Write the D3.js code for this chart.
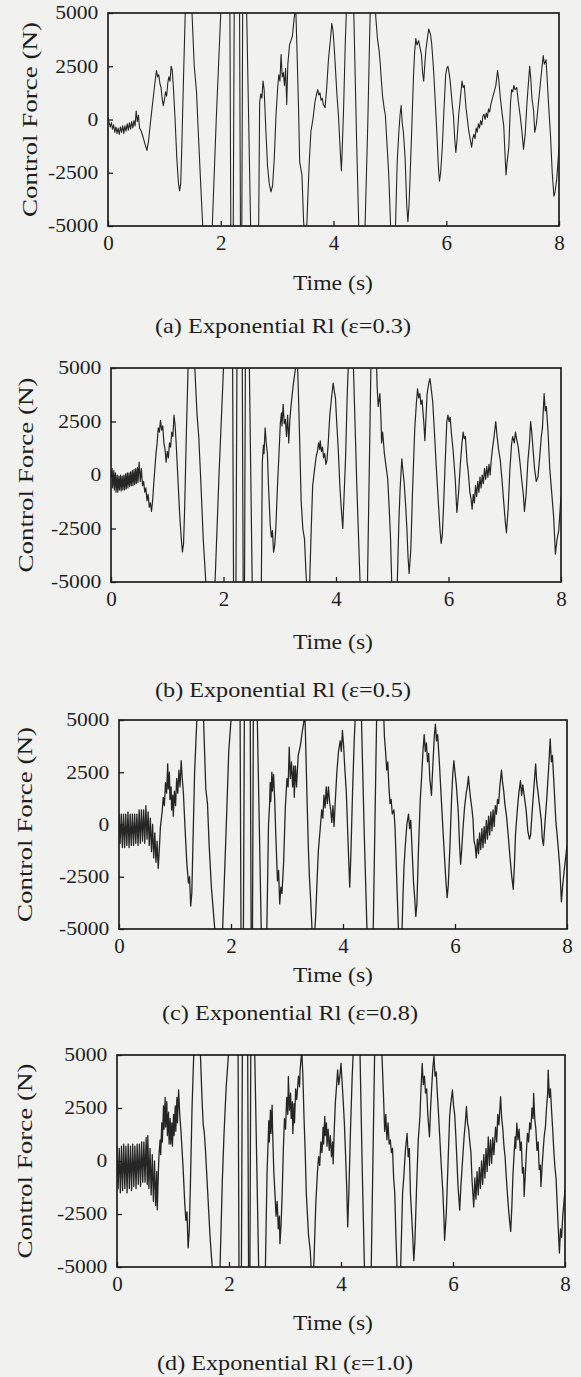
<!DOCTYPE html>
<html>
<head>
<meta charset="utf-8">
<script src="https://cdn.jsdelivr.net/npm/d3@7"></script>
<style>
body { margin: 0; background: #f1f1ef; }
svg { display: block; }
text { font-family: "Liberation Serif", "Times New Roman", Times, serif; fill: #1e1e1e; }
</style>
</head>
<body>
<svg id="fig" width="581" height="1377"></svg>
<script>
const timeTicks = [0, 2, 4, 6, 8];
const forceTicks = [-5000, -2500, 0, 2500, 5000];
const captions = [
    "(a) Exponential Rl (\u03b5=0.3)",
    "(b) Exponential Rl (\u03b5=0.5)",
    "(c) Exponential Rl (\u03b5=0.8)",
    "(d) Exponential Rl (\u03b5=1.0)"
];

// [time (s), control force (N)]; values outside +-5000 are clipped
const forceA = [
[0.00,100],[0.02,-150],[0.04,-350],[0.06,-150],[0.08,-450],[0.10,-250],[0.12,-600],[0.14,-350],[0.16,-650],[0.18,-400],
[0.20,-700],[0.22,-350],[0.24,-600],[0.26,-300],[0.28,-650],[0.30,-300],[0.32,-550],[0.34,-200],[0.36,-500],[0.38,-150],
[0.40,-450],[0.42,-100],[0.44,-400],[0.46,-50],[0.48,-300],[0.50,400],[0.52,-100],[0.54,200],[0.56,-400],[0.59,-550],
[0.62,-800],[0.65,-1100],[0.69,-1450],[0.72,-1000],[0.75,-200],[0.78,500],[0.81,1200],[0.84,1900],[0.86,2300],[0.88,2000],
[0.90,2100],[0.92,1700],[0.94,1500],[0.96,1000],[0.98,650],[1.00,900],[1.02,1300],[1.04,1100],[1.06,1700],[1.08,2000],
[1.10,1800],[1.12,2500],[1.14,2300],[1.16,1500],[1.19,0],[1.22,-1800],[1.25,-3000],[1.27,-3350],[1.29,-3000],[1.31,-1200],
[1.34,2000],[1.37,5000],[1.41,7200],[1.45,7000],[1.49,5000],[1.53,2500],[1.57,1300],[1.60,-500],[1.64,-2800],[1.68,-5000],
[1.74,-7000],[1.80,-6800],[1.85,-5000],[1.92,0],[2.00,5000],[2.06,7000],[2.12,7500],[2.16,6500],[2.18,-6000],[2.20,-8500],
[2.22,-6000],[2.24,6000],[2.28,8500],[2.33,7500],[2.35,-5500],[2.37,-7500],[2.39,6000],[2.41,8000],[2.44,7000],[2.46,5000],
[2.53,-5000],[2.58,-7500],[2.64,-7000],[2.67,-6000],[2.69,800],[2.71,1200],[2.73,1000],[2.75,1800],[2.77,1400],[2.80,-500],
[2.83,-2200],[2.86,-3000],[2.89,-3400],[2.92,-3100],[2.95,-1800],[2.98,200],[3.01,1500],[3.03,2100],[3.05,1800],[3.07,3050],
[3.09,2000],[3.11,2200],[3.13,1600],[3.15,2400],[3.17,700],[3.19,2600],[3.22,3500],[3.27,3900],[3.30,4700],[3.33,5300],
[3.35,3500],[3.38,500],[3.40,-2000],[3.42,-2300],[3.44,-2600],[3.47,-4800],[3.50,-5800],[3.52,-5500],[3.54,-4000],[3.57,-2000],
[3.60,-550],[3.64,100],[3.67,800],[3.70,1200],[3.72,1400],[3.74,1150],[3.76,1250],[3.78,900],[3.80,1000],[3.82,700],
[3.85,550],[3.88,1500],[3.91,2800],[3.94,3600],[3.97,4500],[3.99,4200],[4.01,3500],[4.03,2600],[4.06,1200],[4.09,100],
[4.12,-1500],[4.14,-2400],[4.16,-1000],[4.18,600],[4.21,3700],[4.23,5200],[4.26,7000],[4.29,6800],[4.33,5600],[4.36,5000],
[4.41,-1000],[4.45,-5200],[4.50,-7000],[4.54,-6000],[4.56,-5000],[4.61,0],[4.65,5000],[4.69,7000],[4.73,6500],[4.75,4800],
[4.78,3800],[4.81,3200],[4.83,2600],[4.85,1800],[4.87,1100],[4.90,500],[4.92,200],[4.95,-1200],[4.98,-2600],[5.01,-4800],
[5.04,-6500],[5.08,-6000],[5.10,-5000],[5.13,-2000],[5.16,-550],[5.18,200],[5.20,650],[5.22,-200],[5.24,-600],[5.27,-1800],
[5.30,-4100],[5.32,-4800],[5.34,-4000],[5.36,-2600],[5.39,-300],[5.42,2100],[5.44,3200],[5.46,3800],[5.48,3500],[5.51,3700],
[5.54,3300],[5.56,3050],[5.58,2200],[5.60,1800],[5.62,2600],[5.64,3300],[5.67,3900],[5.69,4250],[5.72,4000],[5.74,3600],
[5.76,2900],[5.78,2100],[5.81,600],[5.84,-1000],[5.86,-2200],[5.88,-2900],[5.90,-2500],[5.93,-1300],[5.96,500],[5.99,2100],
[6.01,2400],[6.03,2500],[6.05,2200],[6.07,1800],[6.10,900],[6.13,100],[6.15,-900],[6.17,-1550],[6.19,-1000],[6.22,200],
[6.25,1000],[6.28,1800],[6.30,1500],[6.32,1600],[6.35,550],[6.38,-100],[6.40,-550],[6.43,-1000],[6.45,-1300],[6.47,-900],
[6.49,-700],[6.51,-900],[6.53,-400],[6.55,-600],[6.57,-200],[6.59,-400],[6.61,-50],[6.63,-250],[6.65,150],[6.67,250],
[6.69,0],[6.71,300],[6.73,100],[6.75,500],[6.77,350],[6.79,700],[6.82,1000],[6.85,1300],[6.88,1600],[6.91,2300],
[6.93,1900],[6.96,1000],[6.99,300],[7.02,-300],[7.04,-1500],[7.06,-2600],[7.08,-2000],[7.11,-1300],[7.14,800],[7.16,1400],
[7.18,1300],[7.20,1600],[7.22,1400],[7.25,1500],[7.28,800],[7.31,200],[7.34,-500],[7.37,-1400],[7.40,-700],[7.43,700],
[7.46,1800],[7.48,2500],[7.50,1900],[7.52,1000],[7.55,400],[7.57,-600],[7.60,-200],[7.64,900],[7.67,1700],[7.70,2500],
[7.72,3000],[7.74,2600],[7.77,2800],[7.79,1900],[7.82,500],[7.85,-800],[7.88,-2500],[7.91,-3600],[7.93,-3400],[7.96,-2800],
[8.00,-1300]
];

const forceB = [
[0.00,-100],[0.02,300],[0.03,-600],[0.05,200],[0.06,-700],[0.08,100],[0.09,-800],[0.11,0],[0.12,-800],[0.14,-50],
[0.15,-700],[0.17,0],[0.18,-750],[0.20,-50],[0.21,-700],[0.23,0],[0.24,-700],[0.26,50],[0.27,-650],[0.29,100],
[0.30,-600],[0.32,100],[0.33,-550],[0.35,150],[0.36,-500],[0.38,200],[0.39,-500],[0.41,250],[0.42,-450],[0.44,300],
[0.45,-400],[0.47,350],[0.48,-350],[0.50,600],[0.52,-300],[0.54,300],[0.56,-500],[0.58,-300],[0.60,-800],[0.62,-600],
[0.64,-1200],[0.66,-900],[0.68,-1500],[0.70,-1300],[0.72,-1700],[0.74,-1200],[0.76,-400],[0.78,300],[0.80,1000],[0.82,1500],
[0.84,2200],[0.86,2000],[0.88,2550],[0.90,2100],[0.92,2300],[0.94,1500],[0.96,1200],[0.98,600],[1.00,1100],[1.02,800],
[1.04,1500],[1.06,1300],[1.08,2000],[1.10,1800],[1.12,2800],[1.14,2300],[1.16,1400],[1.19,-200],[1.22,-1800],[1.25,-3000],
[1.27,-3600],[1.29,-3200],[1.31,-1500],[1.34,2000],[1.37,5000],[1.41,7500],[1.45,7200],[1.49,5000],[1.53,2800],[1.56,1800],
[1.60,-500],[1.64,-3000],[1.69,-5200],[1.74,-7000],[1.80,-6800],[1.85,-5000],[1.92,0],[2.00,5000],[2.06,7000],[2.12,7500],
[2.16,6500],[2.18,-6000],[2.20,-8500],[2.22,-6000],[2.24,6000],[2.28,8500],[2.33,7500],[2.35,-5500],[2.37,-7500],[2.39,6000],
[2.41,8000],[2.44,7000],[2.46,5000],[2.51,-5000],[2.58,-7500],[2.64,-7000],[2.67,-6000],[2.69,600],[2.71,1400],[2.72,1000],
[2.74,2200],[2.76,1500],[2.78,1000],[2.80,-500],[2.83,-2300],[2.85,-2900],[2.87,-2600],[2.89,-3600],[2.91,-3300],[2.93,-2500],
[2.96,-500],[2.99,1200],[3.01,2400],[3.03,2900],[3.04,2300],[3.06,3300],[3.08,2400],[3.10,2600],[3.12,1800],[3.14,2800],
[3.16,1500],[3.18,2600],[3.21,3500],[3.24,4200],[3.28,5000],[3.31,5600],[3.33,4000],[3.36,1000],[3.38,-1200],[3.41,-2500],
[3.44,-3000],[3.47,-4800],[3.50,-5800],[3.53,-5200],[3.56,-2500],[3.585,-500],[3.62,300],[3.65,900],[3.67,1100],[3.69,1500],
[3.71,1200],[3.72,1600],[3.74,1100],[3.76,1300],[3.78,800],[3.80,1000],[3.82,500],[3.84,700],[3.86,1400],[3.89,2800],
[3.92,3600],[3.95,4300],[3.97,3900],[3.99,3600],[4.01,2600],[4.04,1200],[4.07,-600],[4.10,-1800],[4.12,-2500],[4.14,-1200],
[4.17,800],[4.20,3800],[4.22,5200],[4.25,7000],[4.28,6800],[4.31,5000],[4.37,-500],[4.43,-5200],[4.48,-7000],[4.53,-6000],
[4.56,-5000],[4.59,0],[4.62,5000],[4.67,7000],[4.71,6500],[4.73,4200],[4.75,3200],[4.78,3800],[4.80,2600],[4.81,1500],
[4.83,2000],[4.86,1000],[4.89,400],[4.92,-200],[4.95,-1800],[4.97,-3000],[4.99,-5000],[5.03,-6500],[5.07,-6000],[5.09,-5000],
[5.12,-2000],[5.14,-640],[5.17,760],[5.19,200],[5.21,-300],[5.24,-1500],[5.26,-2500],[5.28,-3800],[5.30,-4600],[5.33,-3500],
[5.36,-800],[5.40,2160],[5.43,3400],[5.45,4030],[5.47,3600],[5.49,3800],[5.51,3300],[5.53,3500],[5.56,2500],[5.58,1600],
[5.60,2700],[5.62,3800],[5.65,4300],[5.67,4500],[5.69,4100],[5.72,3400],[5.75,2000],[5.78,500],[5.82,-1300],[5.85,-2600],
[5.87,-3200],[5.89,-2800],[5.91,-1600],[5.94,500],[5.97,2500],[5.99,2800],[6.01,2500],[6.03,2700],[6.05,2000],[6.08,1200],
[6.10,500],[6.12,-200],[6.14,-1300],[6.15,-1750],[6.18,-800],[6.21,500],[6.24,1500],[6.26,2000],[6.28,1700],[6.30,1800],
[6.33,600],[6.35,200],[6.38,-800],[6.40,-1100],[6.42,-1600],[6.44,-900],[6.46,-1300],[6.48,-500],[6.50,-1000],[6.52,-300],
[6.54,-800],[6.56,-100],[6.58,-600],[6.60,0],[6.62,-400],[6.64,300],[6.66,-200],[6.68,400],[6.70,-100],[6.72,500],
[6.74,0],[6.76,700],[6.78,1200],[6.81,1800],[6.84,2500],[6.86,1900],[6.89,1200],[6.92,700],[6.95,-200],[6.98,-1200],
[7.01,-2200],[7.03,-2700],[7.06,-1600],[7.09,200],[7.12,1400],[7.14,1800],[7.17,1500],[7.19,2000],[7.21,1700],[7.24,1300],
[7.27,600],[7.30,-200],[7.33,-900],[7.35,-1700],[7.38,-900],[7.41,600],[7.44,1500],[7.46,2500],[7.48,2000],[7.50,1300],
[7.53,300],[7.56,-300],[7.59,-100],[7.62,800],[7.65,1800],[7.67,2200],[7.70,3800],[7.72,3000],[7.74,3200],[7.77,2000],
[7.80,300],[7.84,-1000],[7.87,-2000],[7.90,-3700],[7.93,-3000],[7.96,-2600],[8.00,-1000]
];

const forceC = [
[0.00,500],[0.02,-900],[0.04,500],[0.06,-1100],[0.08,500],[0.10,-1100],[0.12,500],[0.14,-1000],[0.16,600],[0.18,-1100],
[0.20,500],[0.22,-1000],[0.24,500],[0.26,-1000],[0.28,500],[0.30,-900],[0.32,500],[0.34,-1000],[0.36,700],[0.38,-900],
[0.40,700],[0.42,-800],[0.44,700],[0.46,-900],[0.48,900],[0.50,-700],[0.52,600],[0.54,-1000],[0.56,300],[0.58,-1300],
[0.60,0],[0.62,-1600],[0.64,-400],[0.66,-1800],[0.68,-800],[0.70,-2100],[0.72,-1200],[0.74,-100],
[0.77,600],[0.79,1300],[0.81,900],[0.83,2000],[0.85,1500],[0.87,2900],[0.88,1700],[0.90,2500],[0.91,1200],[0.93,1800],
[0.94,700],[0.96,1400],[0.97,400],[0.99,1600],[1.01,900],[1.03,2200],[1.05,1500],[1.07,2600],[1.09,1800],[1.11,3050],
[1.13,2200],[1.15,1500],[1.18,-200],[1.21,-1800],[1.24,-2800],[1.26,-2500],[1.28,-3900],[1.30,-3300],[1.32,-1000],[1.35,2500],
[1.39,5000],[1.43,7000],[1.47,6500],[1.51,5000],[1.55,1700],[1.58,1000],[1.61,-1000],[1.65,-3000],[1.71,-5000],[1.76,-7000],
[1.82,-6500],[1.85,-5000],[1.91,-500],[1.96,3500],[2.00,5000],[2.06,7000],[2.12,7500],[2.16,6500],[2.18,-6000],[2.20,-8500],
[2.22,-6000],[2.24,6000],[2.28,8500],[2.34,7500],[2.36,-5500],[2.38,-7500],[2.40,6000],[2.42,8000],[2.45,7000],[2.47,5000],
[2.54,-5000],[2.58,-7500],[2.62,-7000],[2.64,-5000],[2.67,0],[2.69,1000],[2.70,2000],[2.71,1100],[2.73,2500],[2.74,1600],
[2.76,2400],[2.78,1200],[2.80,-500],[2.83,-2700],[2.85,-2200],[2.87,-3800],[2.89,-3000],[2.91,-3300],[2.94,-1800],[2.97,800],
[3.00,2200],[3.02,1800],[3.04,3700],[3.06,2200],[3.08,3000],[3.10,1800],[3.12,2800],[3.13,1300],[3.15,2800],[3.17,1800],
[3.20,3300],[3.24,3800],[3.27,4400],[3.30,4900],[3.32,5300],[3.34,3200],[3.36,1000],[3.38,-1000],[3.40,-2500],[3.42,-3500],
[3.45,-5200],[3.48,-5800],[3.51,-4500],[3.54,-2500],[3.56,-1250],[3.59,-300],[3.62,700],[3.64,300],[3.66,1400],[3.68,800],
[3.70,1800],[3.72,1000],[3.74,1800],[3.76,1100],[3.78,700],[3.80,100],[3.82,900],[3.84,-100],[3.86,1000],[3.89,2500],
[3.92,3500],[3.95,4000],[3.97,3500],[3.99,4500],[4.01,3800],[4.03,2800],[4.06,1500],[4.09,-800],[4.12,-3000],[4.14,-1500],
[4.17,1500],[4.20,4000],[4.22,5200],[4.26,7000],[4.30,6800],[4.33,5000],[4.38,-500],[4.43,-5200],[4.48,-7000],[4.52,-6000],
[4.54,-5000],[4.57,0],[4.60,5000],[4.66,7000],[4.71,6500],[4.74,4200],[4.76,3500],[4.78,2600],[4.80,3000],[4.82,1800],
[4.84,1000],[4.86,1200],[4.88,500],[4.91,700],[4.93,-200],[4.95,-1800],[4.97,-3500],[4.99,-5000],[5.02,-6500],[5.05,-5500],
[5.07,-3500],[5.09,-2000],[5.11,-1100],[5.14,0],[5.17,500],[5.19,-200],[5.21,200],[5.24,-1570],[5.26,-2800],[5.28,-3500],
[5.30,-4400],[5.32,-3800],[5.35,-1000],[5.38,1200],[5.40,2100],[5.43,3600],[5.45,4300],[5.47,3500],[5.49,3900],[5.51,3000],
[5.53,3400],[5.55,2200],[5.58,1400],[5.60,2600],[5.63,4200],[5.65,4800],[5.67,4000],[5.69,4300],[5.72,3000],[5.74,2000],
[5.76,1000],[5.79,-500],[5.82,-1900],[5.84,-2800],[5.86,-3500],[5.88,-2900],[5.91,-1000],[5.94,1300],[5.96,2400],[5.98,3050],
[6.00,2500],[6.02,2000],[6.04,1300],[6.06,500],[6.08,-900],[6.10,-1900],[6.12,-1200],[6.14,-300],[6.17,800],[6.20,1500],
[6.22,1800],[6.24,2300],[6.26,1700],[6.28,1200],[6.30,800],[6.32,300],[6.34,-800],[6.36,-1000],[6.38,-1600],[6.40,-700],
[6.42,-1400],[6.44,-400],[6.46,-1200],[6.48,-200],[6.50,-1100],[6.52,-100],[6.54,-900],[6.56,200],[6.58,-700],[6.60,400],
[6.62,-500],[6.64,600],[6.66,-300],[6.68,700],[6.70,-100],[6.72,900],[6.74,500],[6.76,1200],[6.78,1000],[6.80,1800],
[6.83,2600],[6.85,2000],[6.87,1600],[6.89,1000],[6.92,400],[6.95,-500],[6.98,-1500],[7.01,-2400],[7.04,-3100],[7.06,-2000],
[7.08,-500],[7.11,600],[7.14,1500],[7.17,2100],[7.19,1400],[7.21,1900],[7.24,1300],[7.27,700],[7.30,-300],[7.33,-700],
[7.35,-500],[7.38,700],[7.41,1800],[7.44,2900],[7.46,2000],[7.48,1600],[7.51,900],[7.54,200],[7.56,-700],[7.58,-1000],
[7.61,200],[7.64,1300],[7.67,2600],[7.70,4100],[7.72,3000],[7.74,3300],[7.77,1800],[7.80,200],[7.84,-1000],[7.87,-2000],
[7.90,-3700],[7.92,-3000],[7.95,-2200],[8.00,-1000]
];

const forceD = [
[0.00,700],[0.02,-1300],[0.04,600],[0.06,-1500],[0.08,700],[0.10,-1400],[0.12,800],[0.14,-1300],[0.16,700],[0.18,-1500],
[0.20,800],[0.22,-1300],[0.24,700],[0.26,-1400],[0.28,800],[0.30,-1200],[0.32,700],[0.34,-1300],[0.36,800],[0.38,-1100],
[0.40,800],[0.42,-1200],[0.44,900],[0.46,-1000],[0.48,900],[0.50,-1000],[0.52,1100],[0.54,-1100],[0.55,1200],[0.57,-1300],
[0.59,600],[0.61,-1600],[0.63,300],[0.65,-1900],[0.67,0],[0.69,-2100],[0.71,-500],[0.72,-2300],[0.74,-400],[0.75,300],
[0.77,1000],[0.78,300],[0.80,1800],[0.81,900],
[0.83,2600],[0.84,1500],[0.86,3000],[0.87,1600],[0.89,2800],[0.90,1200],[0.92,2300],[0.93,800],[0.95,2000],[0.96,800],
[0.98,1800],[0.99,700],[1.01,2200],[1.02,1200],[1.04,2600],[1.05,1400],[1.07,3000],[1.08,1800],[1.10,3350],[1.12,2200],
[1.14,1500],[1.16,600],[1.18,-300],[1.21,-2000],[1.23,-2800],[1.25,-2400],[1.27,-4100],[1.29,-3300],[1.31,-1200],[1.34,2500],
[1.37,5000],[1.41,7000],[1.45,6500],[1.49,5000],[1.52,2800],[1.54,1700],[1.56,1300],[1.58,500],[1.62,-1500],[1.66,-3500],
[1.70,-5000],[1.75,-7000],[1.81,-6500],[1.84,-5000],[1.88,-1000],[1.91,1200],[1.95,3500],[1.99,5000],[2.05,7000],[2.12,7500],
[2.16,6500],[2.18,-6000],[2.20,-8500],[2.22,-6000],[2.24,6000],[2.28,8500],[2.33,7500],[2.35,-5500],[2.37,-7500],[2.39,6000],
[2.41,8000],[2.44,7000],[2.46,5000],[2.53,-5000],[2.58,-7500],[2.63,-7000],[2.65,-5000],[2.68,-500],[2.70,1000],[2.71,1900],
[2.72,900],[2.74,2400],[2.75,1300],[2.77,2640],[2.78,1300],[2.80,-500],[2.82,-1500],[2.84,-2600],[2.86,-1900],[2.88,-3200],
[2.90,-2600],[2.91,-3900],[2.93,-3000],[2.95,-1500],[2.97,500],[2.99,2000],[3.01,1500],[3.03,3000],[3.05,2200],[3.06,3980],
[3.08,2400],[3.10,3200],[3.11,2000],[3.13,2800],[3.14,1300],[3.16,2700],[3.17,1800],[3.19,3400],[3.21,2900],[3.24,4000],
[3.26,3500],[3.27,4300],[3.30,5200],[3.32,4000],[3.34,2000],[3.36,500],[3.38,-1500],[3.40,-2500],[3.42,-3500],[3.45,-4200],
[3.47,-5200],[3.50,-5800],[3.52,-4500],[3.55,-2000],[3.58,-500],[3.60,200],[3.62,-200],[3.64,900],[3.66,400],[3.68,1600],
[3.69,800],[3.71,2100],[3.72,1200],[3.74,1800],[3.75,700],[3.77,1500],[3.79,500],[3.81,1200],[3.83,200],[3.85,900],
[3.86,-130],[3.88,1500],[3.90,2800],[3.92,3500],[3.94,4300],[3.96,3600],[3.98,4000],[4.00,4600],[4.02,3700],[4.04,2800],
[4.06,1800],[4.08,400],[4.10,-1100],[4.12,-3110],[4.14,-1500],[4.17,1500],[4.20,4000],[4.22,5200],[4.26,7000],[4.30,6800],
[4.34,5000],[4.38,-500],[4.42,-5200],[4.47,-7000],[4.52,-6000],[4.54,-5000],[4.57,0],[4.60,5000],[4.66,7000],[4.71,6500],
[4.74,4400],[4.76,3000],[4.78,1400],[4.80,2200],[4.82,1000],[4.84,1800],[4.86,800],[4.88,1000],[4.90,400],[4.92,600],
[4.94,-800],[4.96,-1500],[4.98,-3500],[5.00,-5000],[5.03,-6500],[5.06,-5500],[5.08,-3500],[5.10,-1500],[5.12,-800],[5.15,500],
[5.18,1300],[5.20,200],[5.22,600],[5.24,-1540],[5.26,-2500],[5.28,-3500],[5.30,-4700],[5.32,-3800],[5.35,-1200],[5.38,1000],
[5.41,2100],[5.43,3500],[5.45,4600],[5.47,3600],[5.49,4000],[5.51,3200],[5.53,3400],[5.55,2200],[5.58,1140],[5.60,2500],
[5.62,3500],[5.64,4400],[5.66,4950],[5.68,4000],[5.70,4200],[5.72,3200],[5.74,2300],[5.76,1300],[5.79,-200],[5.82,-1540],
[5.84,-2800],[5.85,-3740],[5.88,-2500],[5.91,-200],[5.94,2090],[5.96,2700],[5.99,3350],[6.01,2600],[6.03,2200],[6.05,1200],
[6.07,30],[6.09,-1200],[6.12,-2320],[6.14,-1200],[6.17,0],[6.20,1200],[6.22,1800],[6.24,2560],[6.26,1800],[6.28,1500],
[6.30,900],[6.32,400],[6.34,-900],[6.37,-2170],[6.39,-800],[6.41,-1800],[6.43,-500],[6.45,-1600],[6.47,-300],[6.49,-1300],
[6.51,0],[6.53,-1100],[6.55,300],[6.57,-800],[6.59,600],[6.61,-500],[6.63,1140],[6.65,-200],[6.67,1000],[6.69,-100],
[6.71,1100],[6.73,300],[6.76,1600],[6.78,900],[6.80,2200],[6.82,1700],[6.85,3030],[6.87,2000],[6.89,1500],[6.91,700],
[6.93,200],[6.95,-700],[6.97,-1500],[6.99,-2200],[7.01,-2800],[7.03,-3320],[7.05,-2200],[7.07,-700],[7.09,300],[7.11,1150],
[7.12,600],[7.14,1780],[7.16,1000],[7.18,1500],[7.20,500],[7.22,900],[7.24,-570],[7.26,-300],[7.27,-1670],[7.29,-700],
[7.31,400],[7.33,1300],[7.35,900],[7.37,1800],[7.39,1500],[7.41,2500],[7.43,2000],[7.44,3190],[7.46,2000],[7.48,1500],
[7.50,500],[7.52,900],[7.54,-400],[7.56,-200],[7.57,-1200],[7.59,-300],[7.61,500],[7.63,1200],[7.65,1600],[7.67,2500],
[7.69,3200],[7.70,4290],[7.72,3000],[7.74,3400],[7.76,2400],[7.78,1500],[7.80,500],[7.82,-300],[7.84,-800],[7.86,-2000],
[7.88,-3200],[7.90,-4340],[7.92,-3200],[7.94,-3600],[7.96,-2600],[8.00,-1360]
];

// frame of each panel on the page, plus where its labels sit
const panels = [
    { id: "a", data: forceA, caption: captions[0], left: 108, right: 559, top: 13,   bottom: 226,  timeY: 283,  capY: 326,  capX: 283, labX: 30, lw: 1.1 },
    { id: "b", data: forceB, caption: captions[1], left: 111, right: 561, top: 368,  bottom: 582,  timeY: 642,  capY: 690,  capX: 283, labX: 26, lw: 1.2 },
    { id: "c", data: forceC, caption: captions[2], left: 119, right: 567, top: 720,  bottom: 929,  timeY: 975,  capY: 1013, capX: 290, labX: 25, lw: 1.3 },
    { id: "d", data: forceD, caption: captions[3], left: 117, right: 565, top: 1055, bottom: 1267, timeY: 1323, capY: 1363, capX: 285, labX: 25, lw: 1.3 }
];

const svg = d3.select("#fig");
const ink = "#1e1e1e";
// plain hyphen for negatives, no thousands separator
const fmt = d => String(d);

panels.forEach(function (p) {
    const w = p.right - p.left;
    const h = p.bottom - p.top;

    const x = d3.scaleLinear([0, 8], [0, w]);
    const y = d3.scaleLinear([-5000, 5000], [h, 0]);

    const g = svg.append("g")
        .attr("transform", `translate(${p.left},${p.top})`);

    g.append("clipPath")
        .attr("id", "clip-" + p.id)
        .append("rect")
        .attr("width", w)
        .attr("height", h);

    const line = d3.line()
        .x(d => x(d[0]))
        .y(d => y(d[1]));

    g.append("path")
        .datum(p.data)
        .attr("clip-path", `url(#clip-${p.id})`)
        .attr("fill", "none")
        .attr("stroke", "#262626")
        .attr("stroke-width", p.lw)
        .attr("stroke-linejoin", "round")
        .attr("d", line);

    // x axis, ticks pointing inward
    const xAxis = g.append("g")
        .attr("transform", `translate(0,${h})`)
        .call(d3.axisBottom(x).tickValues(timeTicks).tickFormat(fmt)
            .tickSizeInner(-5).tickSizeOuter(0).tickPadding(9));
    xAxis.select(".domain").remove();
    xAxis.selectAll("line").attr("stroke", ink).attr("stroke-width", 1.3);
    xAxis.selectAll("text")
        .attr("fill", ink)
        .style("font-size", "21px")
        .style("font-family", "Liberation Serif");

    const yAxis = g.append("g")
        .call(d3.axisLeft(y).tickValues(forceTicks).tickFormat(fmt)
            .tickSizeInner(-5).tickSizeOuter(0).tickPadding(8));
    yAxis.select(".domain").remove();
    yAxis.selectAll("line").attr("stroke", ink).attr("stroke-width", 1.3);
    yAxis.selectAll("text")
        .attr("fill", ink)
        .style("font-size", "18px")
        .style("font-family", "Liberation Serif")
        .attr("transform", "scale(1.2,1)");

    g.append("rect")
        .attr("width", w)
        .attr("height", h)
        .attr("fill", "none")
        .attr("stroke", ink)
        .attr("stroke-width", 1.7);

    svg.append("text")
        .attr("transform", `translate(${p.labX},${p.top + h / 2}) rotate(-90)`)
        .attr("text-anchor", "middle")
        .attr("dy", "0.35em")
        .style("font-size", "20px")
        .attr("textLength", 195)
        .attr("lengthAdjust", "spacingAndGlyphs")
        .text("Control Force (N)");

    svg.append("text")
        .attr("x", 333)
        .attr("y", p.timeY)
        .attr("text-anchor", "middle")
        .attr("dy", "0.35em")
        .style("font-size", "20px")
        .attr("textLength", 80)
        .attr("lengthAdjust", "spacingAndGlyphs")
        .text("Time (s)");

    svg.append("text")
        .attr("x", p.capX)
        .attr("y", p.capY)
        .attr("text-anchor", "middle")
        .attr("dy", "0.35em")
        .style("font-size", "21px")
        .attr("textLength", 256)
        .attr("lengthAdjust", "spacingAndGlyphs")
        .text(p.caption);
});
</script>
</body>
</html>
